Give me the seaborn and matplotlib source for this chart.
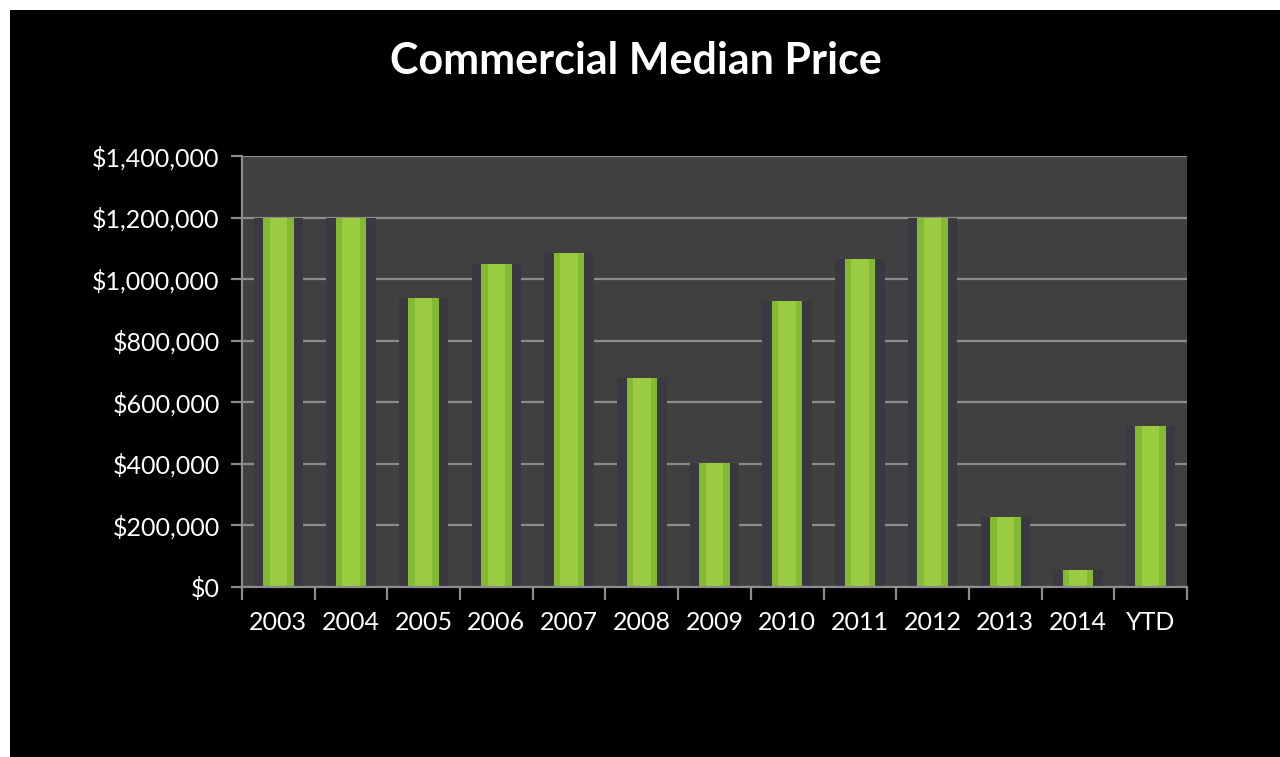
import matplotlib
matplotlib.use("Agg")
import matplotlib.pyplot as plt
import seaborn as sns
import pandas as pd
from matplotlib.patches import Rectangle
from matplotlib.ticker import FuncFormatter, MultipleLocator

categories = ["2003", "2004", "2005", "2006", "2007", "2008", "2009",
              "2010", "2011", "2012", "2013", "2014", "YTD"]
values = [1200000, 1200000, 940000, 1050000, 1085000, 680000, 402000,
          928000, 1065000, 1200000, 226000, 55000, 522000]

df = pd.DataFrame({"year": categories, "price": values})

sns.set_theme(style="dark")
plt.rcParams["font.family"] = ["Lato", "DejaVu Sans"]

fig = plt.figure(figsize=(12.8, 7.57), dpi=100)
fig.patch.set_facecolor("white")
fig.patches.append(Rectangle((10 / 1280, 0), 1 - 10 / 1280, 1 - 10 / 757,
                             transform=fig.transFigure, facecolor="black",
                             edgecolor="none", zorder=-10))

ax = fig.add_axes([242 / 1280, 1 - 587 / 757, (1187 - 242) / 1280, (587 - 156) / 757])
ax.set_facecolor("#404040")

# shadow bars
sns.barplot(data=df, x="year", y="price", ax=ax, color="#3a3840",
            width=0.68, saturation=1, linewidth=0, zorder=2)
# main green bars
sns.barplot(data=df, x="year", y="price", ax=ax, color="#84b934",
            width=0.42, saturation=1, linewidth=0, zorder=3)
# cylinder highlight
sns.barplot(data=df, x="year", y="price", ax=ax, color="#9acb40",
            width=0.24, saturation=1, linewidth=0, zorder=4)

ax.set_ylim(0, 1400000)
ax.set_xlim(-0.5, len(categories) - 0.5)
ax.yaxis.set_major_locator(MultipleLocator(200000))
ax.yaxis.set_major_formatter(FuncFormatter(lambda v, p: f"${v:,.0f}"))
ax.set_axisbelow(True)
ax.grid(axis="y", color="#8c8c8c", linewidth=1.6, zorder=1)
ax.grid(axis="x", visible=False)

ax.set_xlabel("")
ax.set_ylabel("")

for s in ["top", "right"]:
    ax.spines[s].set_visible(False)
for s in ["left", "bottom"]:
    ax.spines[s].set_visible(True)
    ax.spines[s].set_color("#8c8c8c")
    ax.spines[s].set_linewidth(1.6)
    ax.spines[s].set_zorder(5)

ax.tick_params(axis="y", which="major", left=True, length=8, width=1.6,
               color="#8c8c8c", labelcolor="white", labelsize=18, pad=8)
# x ticks at category boundaries
ax.set_xticks(range(len(categories)))
ax.set_xticklabels(categories)
ax.set_xticks([i - 0.5 for i in range(len(categories) + 1)], minor=True)
ax.tick_params(axis="x", which="major", bottom=False, labelcolor="white",
               labelsize=18, pad=11)
ax.tick_params(axis="x", which="minor", bottom=True, length=9, width=1.6,
               color="#8c8c8c")

fig.text(636 / 1280, 1 - 61 / 757, "Commercial Median Price", color="white",
         fontsize=31, fontweight="bold", ha="center", va="center")

fig.savefig("out.png", dpi=100, facecolor=fig.get_facecolor())
